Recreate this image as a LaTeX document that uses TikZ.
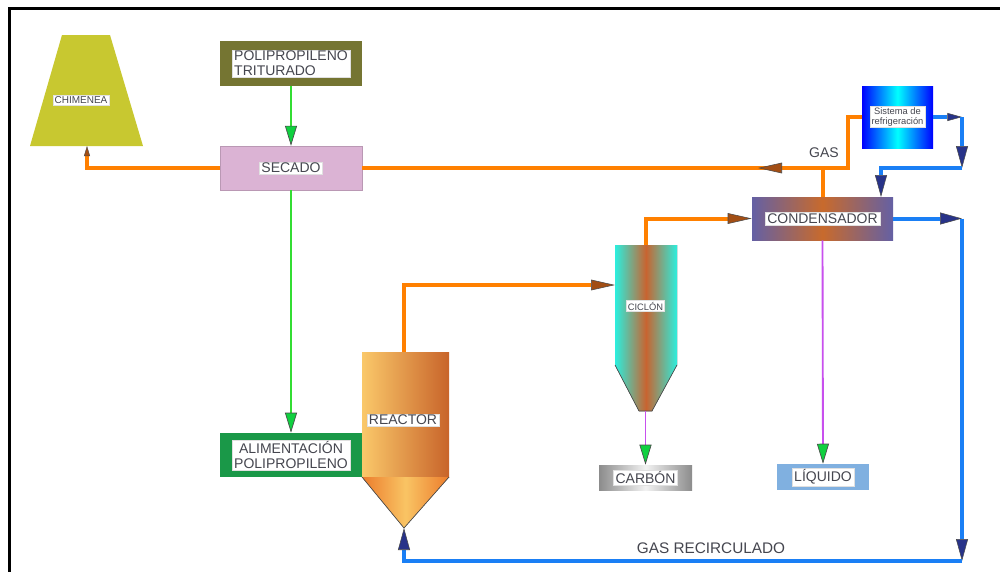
\documentclass[tikz,border=0pt]{standalone}
\usepackage{fontspec}
\setmainfont{Liberation Sans}
\usetikzlibrary{arrows.meta}

\definecolor{txt}{HTML}{45464F}
\definecolor{olivebox}{HTML}{757532}
\definecolor{chimfill}{HTML}{C8C830}
\definecolor{secfill}{HTML}{DBB3D4}
\definecolor{alimfill}{HTML}{1A9848}
\definecolor{liqfill}{HTML}{80B0E0}
\definecolor{pipeorange}{HTML}{FF8000}
\definecolor{pipeblue}{HTML}{1A7FF5}
\definecolor{feedgreen}{HTML}{33DD33}
\definecolor{drainpurple}{HTML}{C850EE}
\definecolor{tipgreen}{HTML}{10D040}
\definecolor{tipbrown}{HTML}{A24E14}
\definecolor{tipnavy}{HTML}{283389}
\definecolor{tipedge}{HTML}{4A4A4A}
\definecolor{condedge}{HTML}{6460A4}
\definecolor{condmid}{HTML}{C86A2C}
\definecolor{cycedge}{HTML}{2CEEDE}
\definecolor{cycmid}{HTML}{C86430}
\definecolor{reactlight}{HTML}{FAC86A}
\definecolor{reactdark}{HTML}{C8642A}
\definecolor{coneedge}{HTML}{EC7C2C}
\definecolor{conemid}{HTML}{F9C464}
\definecolor{carbedge}{HTML}{8C8C8C}
\definecolor{carbmid}{HTML}{F2F2F2}

\tikzset{
  lbl/.style={fill=white, draw=black!12, line width=0.3pt, inner xsep=1.5pt, inner ysep=1pt,
    text=txt, font=\fontsize{10.5}{11}\selectfont},
  smalllbl/.style={lbl, font=\fontsize{7}{7.5}\selectfont, inner xsep=1pt},
  blk/.style={rectangle, inner sep=0pt},
  pipeO/.style={line width=3pt, draw=pipeorange},
  pipeB/.style={line width=3pt, draw=pipeblue},
  feedG/.style={line width=0.8pt, draw=feedgreen},
  drainP/.style={line width=1.4pt, draw=drainpurple},
  greenTip/.tip={Triangle[length=15pt, width=9pt, fill=tipgreen, color=tipedge, line width=0.5pt]},
  brownTip/.tip={Triangle[length=18pt, width=8pt, fill=tipbrown, color=tipedge, line width=0.4pt]},
  brownSmall/.tip={Triangle[length=7.5pt, width=4.5pt, fill=tipbrown, color=tipedge, line width=0.3pt]},
  navyTip/.tip={Triangle[length=16.5pt, width=9pt, fill=tipnavy, color=tipedge, line width=0.4pt]},
  navySmall/.tip={Triangle[length=11pt, width=6pt, fill=tipnavy, color=tipedge, line width=0.4pt]},
}

\begin{document}
\begin{tikzpicture}[x=0.75pt, y=-0.75pt]
\useasboundingbox (0,0) rectangle (1000,572);
\fill[white] (0,0) rectangle (1000,572);
\draw[line width=2.2pt] (1000,8.7) -- (9.7,8.7) -- (9.7,572);

% ---- chimney
\fill[chimfill] (62,35) -- (110,35) -- (143,146) -- (30,146) -- cycle;
\coordinate (chim) at (81,100);
\coordinate (chimBot) at (87,146);
\node[smalllbl, font=\fontsize{7.5}{8}\selectfont] (chimlbl) at (chim) {CHIMENEA};

% ---- feed and drying
\node[blk, fill=olivebox, minimum width=106.5pt, minimum height=33.75pt] (pp) at (291,63.5) {};
\node[lbl, align=left] at (pp) {POLIPROPILENO\\TRITURADO};

\node[blk, fill=secfill, draw=secfill!85!black, line width=0.3pt, minimum width=106.5pt, minimum height=33pt] (secado) at (291,168) {};
\node[lbl] at (secado) {SECADO};

\node[blk, fill=alimfill, minimum width=106.5pt, minimum height=33pt] (alim) at (291,455) {};
\node[lbl, align=center] at (alim) {ALIMENTACIÓN\\POLIPROPILENO};

% ---- reactor
\fill[left color=reactlight, right color=reactdark] (362,352) rectangle (449,477);
\fill[left color=coneedge, right color=coneedge, middle color=conemid] (362,477) -- (449,477) -- (404,528) -- cycle;
\draw[gray!60!black, line width=0.5pt] (362,477) -- (404,528) -- (449,477);
\coordinate (reactTop) at (404,352);
\coordinate (reactBot) at (404,528);
\node[lbl] (reactlbl) at (403,420) {REACTOR};

% ---- cyclone
\fill[left color=cycedge, right color=cycedge, middle color=cycmid]
  (615,245) -- (677,245) -- (677,365) -- (652,411) -- (639,411) -- (615,365) -- cycle;
\draw[gray!60!black, line width=0.5pt] (615,365) -- (639,411) -- (652,411) -- (677,365);
\coordinate (cycIn) at (615,285);
\coordinate (cycTop) at (646,245);
\coordinate (cycBot) at (645.5,411);
\node[smalllbl] (cyclbl) at (645.5,306) {CICLÓN};

\node[blk, left color=carbedge, right color=carbedge, middle color=carbmid, minimum width=69.75pt, minimum height=18.75pt] (carbon) at (645.5,477.5) {};
\node[lbl] at (carbon) {CARBÓN};

% ---- condenser and cooling
\node[blk, left color=condedge, right color=condedge, middle color=condmid, minimum width=105.75pt, minimum height=32.25pt] (cond) at (822.5,218.5) {};
\node[lbl] at (cond) {CONDENSADOR};

\node[blk, left color=blue, right color=blue, middle color=cyan, minimum width=53.25pt, minimum height=46.5pt] (sis) at (897.5,117) {};
\node[smalllbl, align=center] at (sis) {Sistema de\\refrigeración};

\node[blk, fill=liqfill, minimum width=69pt, minimum height=19.5pt] (liq) at (823,477) {};
\node[lbl] at (liq) {LÍQUIDO};

% ---- routing points
\coordinate (gasDrop) at (848,168);
\coordinate (gasTip) at (758,168);
\coordinate (condIn) at (881,197);
\coordinate (b1) at (962,117);
\coordinate (b2) at (962,168);
\coordinate (b3) at (962,218.5);
\coordinate (b4) at (962,561);

% ---- solid feed lines
\draw[feedG, -{greenTip}] (pp.south) -- (secado.north);
\draw[feedG, -{greenTip}] (secado.south) -- (alim.north);

% ---- gas lines
\draw[pipeO, -{brownSmall}] (secado.west) -| (chimBot);
\draw[pipeO] (sis.west) -| (gasDrop) -- (secado.east);
\draw[pipeO, -{brownTip}] (gasDrop) -- (gasTip);
\draw[pipeO] (cond.north) -- (cond.north |- gasDrop);
\draw[pipeO, -{brownTip}] (reactTop) |- (cycIn);
\draw[pipeO, -{brownTip}] (cycTop) |- (cond.west);
\node[text=txt, font=\fontsize{10.5}{11}\selectfont] (gaslbl) at (824,153) {GAS};

% ---- coolant and recirculation
\draw[pipeB, -{navySmall}] (sis.east) -- (b1);
\draw[pipeB, -{navyTip}] (b1) -- (b2);
\draw[pipeB, -{navyTip}] (b2) -| (condIn);
\draw[pipeB, -{navyTip}] (cond.east) -- (b3);
\draw[pipeB, -{navyTip}] (b3) -- (b4);
\draw[pipeB, -{navyTip}] (b4) -| (reactBot);
\node[text=txt, font=\fontsize{11.5}{12}\selectfont] (reclbl) at (711,548) {GAS RECIRCULADO};

% ---- product drains
\draw[drainP, -{greenTip}] (cond.south) -- (liq.north);
\draw[drainP, -{greenTip}] (cycBot) -- (carbon.north);
\end{tikzpicture}
\end{document}
